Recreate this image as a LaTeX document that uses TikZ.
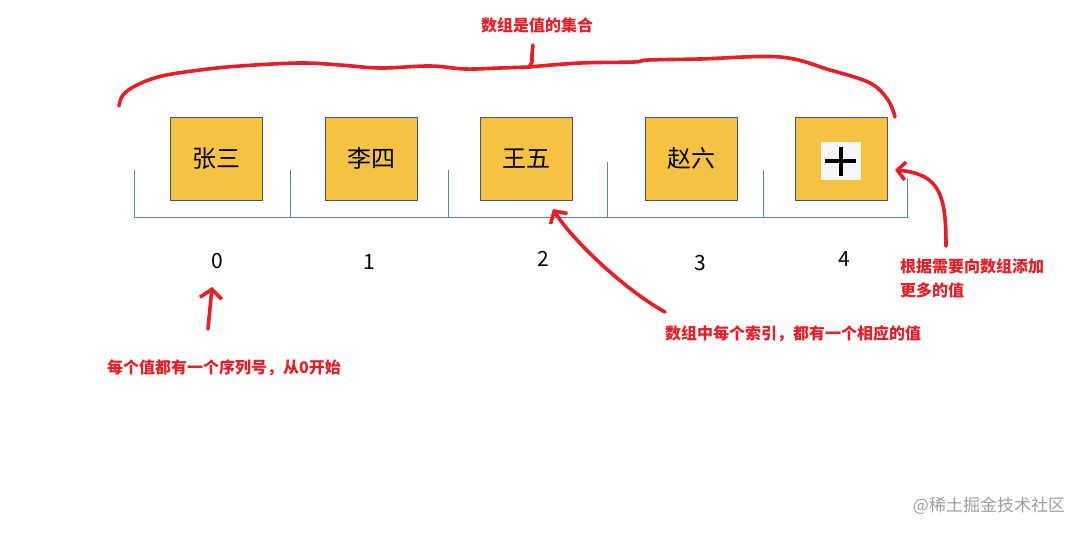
\documentclass[tikz,border=0pt]{standalone}
\usepackage{fontspec}
\setmainfont{Noto Sans CJK SC}
\usetikzlibrary{arrows.meta}

\definecolor{cellfill}{RGB}{245,194,68}
\definecolor{celledge}{RGB}{70,86,108}
\definecolor{markred}{RGB}{230,30,38}
\definecolor{rulerblue}{RGB}{96,128,180}

\tikzset{
	cell/.style={draw=celledge,fill=cellfill,line width=0.9pt,minimum width=92pt,
		minimum height=83pt,inner sep=0pt,font=\fontsize{24}{24}\selectfont},
	idx/.style={inner sep=0pt,font=\fontsize{21}{21}\selectfont},
	note/.style={text=markred,inner sep=0pt,align=left,
		font=\fontsize{16}{24}\selectfont\bfseries},
	pen/.style={markred,line width=3.6pt,line cap=round,line join=round},
	ruler/.style={rulerblue,line width=0.8pt}
}

\begin{document}
\begin{tikzpicture}[x=1pt,y=-1pt]
		\useasboundingbox[fill=white] (0,0) rectangle (1087,533);

		% the array cells
		\node[cell] (c0) at (216,158.5) {张三};
		\node[cell] (c1) at (371,158.5) {李四};
		\node[cell] (c2) at (526,158.5) {王五};
		\node[cell] (c3) at (691,158.5) {赵六};
		\node[cell] (c4) at (841,158.5) {};
		\node[fill=gray!6,minimum width=40pt,minimum height=38pt,inner sep=0pt] (plus) at (841,161) {};
		\draw[line width=4pt] ([xshift=-16pt]plus.center) -- ([xshift=15pt]plus.center);
		\draw[line width=4pt] ([yshift=14pt]plus.center) -- ([yshift=-15pt]plus.center);

		% index ruler
		\draw[ruler] (134,170) -- (134,217) -- (907,217) -- (907,178);
		\draw[ruler] (290,170) -- (290,217);
		\draw[ruler] (448,170) -- (448,217);
		\draw[ruler] (607,162) -- (607,217);
		\draw[ruler] (763,170) -- (763,217);

		\node[idx] (i0) at (217,261) {0};
		\node[idx] (i1) at (369,262) {1};
		\node[idx] (i2) at (543,259) {2};
		\node[idx] (i3) at (700,263) {3};
		\node[idx] (i4) at (844,259) {4};

		% notes
		\node[note] (title) at (537,25) {数组是值的集合};
		\node[note,anchor=west] (n0) at (107,368) {每个值都有一个序列号，从0开始};
		\node[note,anchor=west] (n2) at (665,334) {数组中每个索引，都有一个相应的值};
		\node[note,anchor=north west] (n4) at (900,259) {根据需要向数组添加\\更多的值};

		\node[text=gray!75,inner sep=0pt,font=\fontsize{17}{17}\selectfont] (mark) at (989,506) {@稀土掘金技术社区};

		% hand drawn marks
		\draw[pen] plot[smooth,tension=0.6] coordinates {(119,106) (123,95) (137,85) (162,76)
			(200,70) (240,66) (300,63) (340,65) (380,68) (430,66) (465,69) (500,68) (529,67)};
		\draw[pen] (529,67) -- (532,62) -- (532,54) -- (533,45);
		\draw[pen] plot[smooth,tension=0.6] coordinates {(529,67) (580,63) (634,62) (648,60)
			(700,59) (780,57) (830,70) (870,83) (888,100) (895,117)};

		\coordinate (a0) at (208,329);
		\coordinate (t0) at (212,287);
		\draw[pen,-{Straight Barb[length=9pt,width=22pt]}] (a0) -- (t0);

		\coordinate (a2) at (665,312);
		\coordinate (t2) at (553,209);
		\draw[pen,-{Straight Barb[length=9pt,width=20pt]}] (a2) .. controls (625,290) and (572,240) .. (t2);

		\coordinate (a4) at (946,246);
		\coordinate (t4) at (895,170);
		\draw[pen,-{Straight Barb[length=8pt,width=18pt]}] (a4) .. controls (946,195) and (940,174) .. (t4);
	\end{tikzpicture}
\end{document}
